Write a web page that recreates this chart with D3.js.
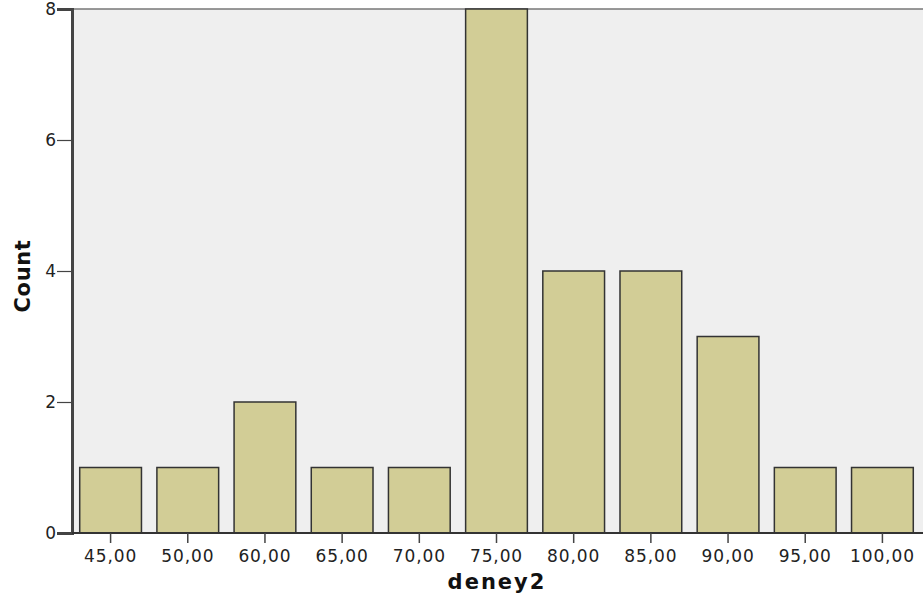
<!DOCTYPE html>
<html>
<head>
<meta charset="utf-8">
<script src="https://cdn.jsdelivr.net/npm/d3@7"></script>
<style>
  body { margin: 0; background: #fff; }
  svg { display: block; font-family: "DejaVu Sans", Verdana, sans-serif; }
</style>
</head>
<body>
<div id="chart"></div>
<script>
// histogram of deney2
var categories = ["45,00", "50,00", "60,00", "65,00", "70,00", "75,00", "80,00", "85,00", "90,00", "95,00", "100,00"];
var counts = [1, 1, 2, 1, 1, 8, 4, 4, 3, 1, 1];
var yTicks = [0, 2, 4, 6, 8];

var width = 923, height = 605;
var margin = { top: 9, right: 2, bottom: 72, left: 72 };

var svg = d3.select("#chart").append("svg")
    .attr("width", width)
    .attr("height", height);

var x = d3.scaleBand()
    .domain(categories)
    .range([margin.left, width - margin.right])
    .paddingInner(0.2)
    .paddingOuter(0.1);

var y = d3.scaleLinear()
    .domain([0, 8])
    .range([height - margin.bottom, margin.top]);

// plot background
svg.append("rect")
    .attr("x", margin.left)
    .attr("y", margin.top)
    .attr("width", width - margin.left)
    .attr("height", y(0) - margin.top)
    .attr("fill", "#efefef");

// top border
svg.append("line")
    .attr("x1", margin.left).attr("x2", width)
    .attr("y1", margin.top).attr("y2", margin.top)
    .attr("stroke", "#777").attr("stroke-width", 1.5);

// bars
svg.selectAll(".bar")
    .data(counts)
    .enter().append("rect")
    .attr("class", "bar")
    .attr("x", function (d, i) { return x(categories[i]); })
    .attr("y", function (d) { return y(d); })
    .attr("width", x.bandwidth())
    .attr("height", function (d) { return y(0) - y(d); })
    .attr("fill", "#d2cd96")
    .attr("stroke", "#333")
    .attr("stroke-width", 1.5);

// y axis
var yAxis = svg.append("g")
    .attr("transform", "translate(" + margin.left + ",0)")
    .call(d3.axisLeft(y).tickValues(yTicks).tickSize(15).tickPadding(0));
yAxis.select(".domain").attr("stroke", "#444").attr("stroke-width", 3);
yAxis.selectAll(".tick line").attr("stroke", "#444").attr("stroke-width", 1.2);
yAxis.selectAll("text")
    .style("font-size", "17px")
    .style("letter-spacing", "1px")
    .style("font-family", "'DejaVu Sans', sans-serif")
    .attr("fill", "#222");

// x axis
var xAxis = svg.append("g")
    .attr("transform", "translate(0," + y(0) + ")")
    .call(d3.axisBottom(x).tickSize(10).tickSizeOuter(0).tickPadding(7));
xAxis.select(".domain").attr("stroke", "#333").attr("stroke-width", 2)
    .attr("d", "M" + margin.left + ",0H" + width);
xAxis.selectAll(".tick line").attr("stroke", "#444").attr("stroke-width", 1.5);
xAxis.selectAll("text")
    .style("font-size", "17px")
    .style("letter-spacing", "0.9px")
    .style("font-family", "'DejaVu Sans', sans-serif")
    .attr("fill", "#222");

// axis titles
svg.append("text")
    .attr("x", 497)
    .attr("y", 589)
    .attr("text-anchor", "middle")
    .style("font-size", "21px")
    .style("font-weight", "bold")
    .style("letter-spacing", "2px")
    .attr("fill", "#111")
    .text("deney2");

svg.append("text")
    .attr("transform", "translate(30,276)rotate(-90)")
    .attr("text-anchor", "middle")
    .style("font-size", "21px")
    .style("font-weight", "bold")
    .style("letter-spacing", "0.6px")
    .attr("fill", "#111")
    .text("Count");
</script>
</body>
</html>
